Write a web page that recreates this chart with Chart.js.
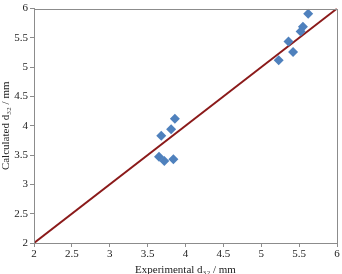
<!DOCTYPE html>
<html><head><meta charset="utf-8">
<script src="https://cdn.jsdelivr.net/npm/chart.js@4"></script>
<style>html,body{margin:0;padding:0;background:#fff}#wrap{width:342px;height:274px}</style>
</head><body><div id="wrap"><canvas id="c" width="342" height="274"></canvas></div>
<script>
const experimental = [5.62, 5.55, 5.52, 5.36, 5.42, 5.23, 3.86, 3.81, 3.68, 3.65, 3.72, 3.84];
const calculated   = [5.91, 5.69, 5.61, 5.44, 5.26, 5.12, 4.12, 3.94, 3.83, 3.47, 3.40, 3.43];
const parityLineX = [2, 6];
const parityLineY = [2, 6];
const xTicks = [2, 2.5, 3, 3.5, 4, 4.5, 5, 5.5, 6];
const yTicks = [2, 2.5, 3, 3.5, 4, 4.5, 5, 5.5, 6];

const font = {family: '"Liberation Serif", "Times New Roman", serif', size: 11};
const boxPlugin = {
  id: 'box',
  afterDraw(chart) {
    const a = chart.chartArea, ctx = chart.ctx;
    ctx.save(); ctx.strokeStyle = '#8c8c8c'; ctx.lineWidth = 1;
    ctx.strokeRect(Math.round(a.left) + 0.5, Math.round(a.top) + 0.5, Math.round(a.right - a.left), Math.round(a.bottom - a.top));
    ctx.restore();
  }
};
new Chart(document.getElementById('c'), {
  data: {
    datasets: [
      {type: 'line', data: parityLineX.map((x, i) => ({x, y: parityLineY[i]})), borderColor: '#8B1A1A', borderWidth: 2, pointRadius: 0, order: 2},
      {type: 'scatter', data: experimental.map((x, i) => ({x, y: calculated[i]})), pointStyle: 'rectRot', pointRadius: 5, backgroundColor: '#4F81BD', borderColor: '#4F81BD', borderWidth: 0, order: 1}
    ]
  },
  options: {
    responsive: false, animation: false, devicePixelRatio: 1,
    layout: {padding: {top: 4, right: 3, left: 0, bottom: 0}},
    plugins: {legend: {display: false}, tooltip: {enabled: false}},
    scales: {
      x: {type: 'linear', min: 2, max: 6,
        afterBuildTicks: s => { s.ticks = xTicks.map(v => ({value: v})); },
        afterFit: s => { s.height = 31; },
        grid: {drawOnChartArea: false, color: '#8c8c8c', tickLength: 4},
        border: {color: '#8c8c8c'},
        ticks: {font, color: '#222', padding: 1, maxRotation: 0, callback: v => String(v)},
        title: {display: true, text: 'Experimental d₃₂ / mm', font, color: '#222', padding: {top: 0, bottom: -3}}
      },
      y: {type: 'linear', min: 2, max: 6,
        afterBuildTicks: s => { s.ticks = yTicks.map(v => ({value: v})); },
        afterFit: s => { s.width = 34; },
        grid: {drawOnChartArea: false, color: '#8c8c8c', tickLength: 4},
        border: {color: '#8c8c8c'},
        ticks: {font, color: '#222', padding: 2, callback: v => String(v)},
        title: {display: true, text: 'Calculated d₃₂ / mm', font, color: '#222', padding: {top: 0, bottom: 0}}
      }
    }
  },
  plugins: [boxPlugin]
});
</script></body></html>
